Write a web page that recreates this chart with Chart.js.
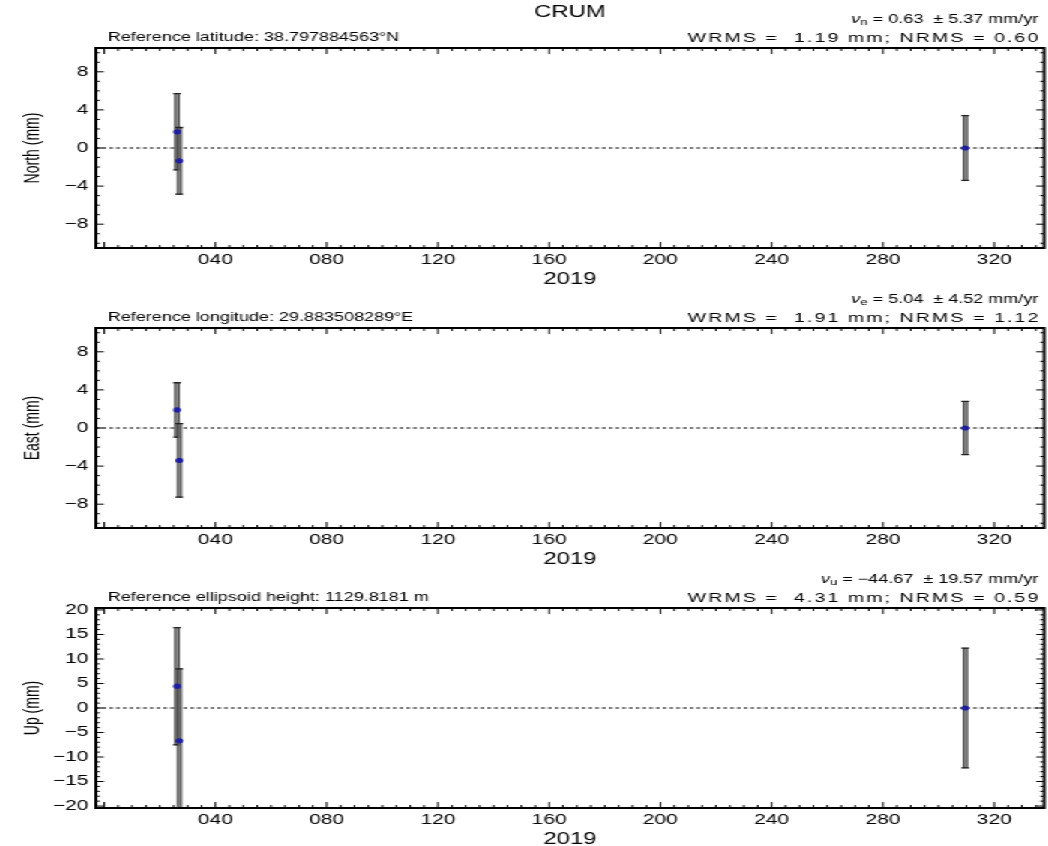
<!DOCTYPE html>
<html>
<head>
<meta charset="utf-8">
<script src="https://cdn.jsdelivr.net/npm/chart.js@4.4.1/dist/chart.umd.min.js"></script>
<style>
  html, body { margin: 0; padding: 0; background: #fff; overflow: hidden; }
  /* the reference is a horizontally stretched plot, so draw narrow and stretch */
  #wrap { position: absolute; left: 0; top: 0; width: 699px; height: 846px;
          transform: scaleX(1.4993); transform-origin: 0 0; }
  .panel { position: absolute; left: 0; width: 699px; height: 290px; }
</style>
</head>
<body>
<div id="wrap">
  <div class="panel" style="top:0"><canvas id="north"></canvas></div>
  <div class="panel" style="top:280px"><canvas id="east"></canvas></div>
  <div class="panel" style="top:560px"><canvas id="up"></canvas></div>
</div>
<script>
// epochs, day of year 2019
const days = [26.2, 27.0, 309.6];

const northVals = [1.7, -1.35, 0.0];
const northErr = [4.0, 3.5, 3.4];
const eastVals = [1.9, -3.4, 0.0];
const eastErr = [2.85, 3.85, 2.8];
const upVals = [4.45, -6.7, 0.0];
const upErr = [11.95, 14.7, 12.2];

const xTicks = [40, 80, 120, 160, 200, 240, 280, 320];
const neTicks = [-8, -4, 0, 4, 8];
const upTicks = [-20, -15, -10, -5, 0, 5, 10, 15, 20];

const FONT = '"Liberation Sans", Arial, sans-serif';
const X_MIN = -3, X_MAX = 338;

function makePanel(id, vals, errs, yTicks, yMin, yMax, yMajor, yTitle, head) {
    const sans = size => ({ family: FONT, size: size });

    const zeroLine = {
        id: 'zeroLine',
        beforeDatasetsDraw(chart) {
            const ctx = chart.ctx, a = chart.chartArea;
            const y0 = chart.scales.y.getPixelForValue(0);
            ctx.save();
            ctx.strokeStyle = '#000';
            ctx.lineWidth = 1;
            ctx.setLineDash([2.5, 2]);
            ctx.beginPath();
            ctx.moveTo(a.left, y0);
            ctx.lineTo(a.right, y0);
            ctx.stroke();
            ctx.restore();
        }
    };

    const errorBars = {
        id: 'errorBars',
        beforeDatasetsDraw(chart) {
            const ctx = chart.ctx, a = chart.chartArea;
            const sx = chart.scales.x, sy = chart.scales.y;
            ctx.save();
            ctx.beginPath();
            ctx.rect(a.left, a.top, a.right - a.left, a.bottom - a.top);
            ctx.clip();
            days.forEach((d, i) => {
                const x = sx.getPixelForValue(d);
                const yt = sy.getPixelForValue(vals[i] + errs[i]);
                const yb = sy.getPixelForValue(vals[i] - errs[i]);
                ctx.fillStyle = 'rgba(110,110,110,0.85)';
                ctx.fillRect(x - 1.4, yt, 2.8, yb - yt);
                ctx.strokeStyle = '#222';
                ctx.lineWidth = 0.7;
                ctx.strokeRect(x - 1.4, yt, 2.8, yb - yt);
                ctx.lineWidth = 1.3;
                ctx.beginPath();
                ctx.moveTo(x - 2.6, yt); ctx.lineTo(x + 2.6, yt);
                ctx.moveTo(x - 2.6, yb); ctx.lineTo(x + 2.6, yb);
                ctx.stroke();
            });
            ctx.restore();
        }
    };

    const frame = {
        id: 'frame',
        afterDraw(chart) {
            const ctx = chart.ctx, a = chart.chartArea;
            const sx = chart.scales.x, sy = chart.scales.y;
            ctx.save();
            ctx.strokeStyle = '#000';
            ctx.lineWidth = 1;
            ctx.beginPath();
            // x ticks, inward on top and bottom
            for (let v = Math.ceil(X_MIN / 5) * 5; v <= X_MAX; v += 5) {
                const x = sx.getPixelForValue(v);
                const len = v % 40 === 0 ? 6 : 3;
                ctx.moveTo(x, a.bottom); ctx.lineTo(x, a.bottom - len);
                ctx.moveTo(x, a.top); ctx.lineTo(x, a.top + len);
            }
            // y ticks, inward on left and right
            for (let v = Math.ceil(yMin); v <= yMax; v += 1) {
                const y = sy.getPixelForValue(v);
                const len = v % yMajor === 0 ? 5.3 : 2.7;
                ctx.moveTo(a.left, y); ctx.lineTo(a.left + len, y);
                ctx.moveTo(a.right, y); ctx.lineTo(a.right - len, y);
            }
            ctx.stroke();
            ctx.lineWidth = 2;
            ctx.strokeRect(a.left, a.top, a.right - a.left, a.bottom - a.top);
            ctx.restore();
        }
    };

    const header = {
        id: 'header',
        afterDraw(chart) {
            const ctx = chart.ctx, a = chart.chartArea;
            ctx.save();
            ctx.fillStyle = '#000';
            ctx.textBaseline = 'middle';
            if (head.title) {
                ctx.font = '16px ' + FONT;
                ctx.textAlign = 'center';
                ctx.fillText(head.title, (a.left + a.right) / 2, 13);
            }
            // velocity line: italic nu, subscript, value
            const y1 = a.top - 28, right = a.right - 4;
            ctx.textAlign = 'left';
            ctx.font = 'italic 12px ' + FONT;
            const wNu = ctx.measureText('\u03bd').width;
            ctx.font = '9px ' + FONT;
            const wSub = ctx.measureText(head.comp).width;
            ctx.font = '12px ' + FONT;
            const wTxt = ctx.measureText(head.vel).width;
            let x = right - wNu - wSub - wTxt;
            ctx.font = 'italic 12px ' + FONT;
            ctx.fillText('\u03bd', x, y1); x += wNu;
            ctx.font = '9px ' + FONT;
            ctx.fillText(head.comp, x, y1 + 3); x += wSub;
            ctx.font = '12px ' + FONT;
            ctx.fillText(head.vel, x, y1);
            // reference / rms line
            const y2 = a.top - 10;
            ctx.fillText(head.ref, a.left + 8, y2);
            ctx.textAlign = 'right';
            ctx.font = '13px ' + FONT;
            ctx.letterSpacing = '1.4px';
            ctx.fillText(head.rms, right + 1.4, y2);
            ctx.restore();
        }
    };

    return new Chart(document.getElementById(id), {
        type: 'scatter',
        data: {
            datasets: [{
                data: days.map((d, i) => ({ x: d, y: vals[i] })),
                pointRadius: 2.6,
                pointHoverRadius: 2.6,
                backgroundColor: '#1e1ea0',
                borderColor: '#1e1ea0',
                borderWidth: 0
            }]
        },
        options: {
            responsive: true,
            maintainAspectRatio: false,
            animation: false,
            events: [],
            layout: { padding: { top: 48, right: 1.5, left: 0, bottom: 0 } },
            plugins: { legend: { display: false }, tooltip: { enabled: false } },
            scales: {
                x: {
                    type: 'linear', min: X_MIN, max: X_MAX,
                    grid: { display: false, drawTicks: false },
                    border: { display: false },
                    afterBuildTicks: s => { s.ticks = xTicks.map(v => ({ value: v })); },
                    afterFit: s => { s.height = 42; },
                    ticks: {
                        padding: 4, color: '#000', font: sans(14),
                        maxRotation: 0, autoSkip: false,
                        callback: v => String(v).padStart(3, '0')
                    },
                    title: {
                        display: true, text: '2019', color: '#000', font: sans(16),
                        padding: { top: 0, bottom: 1 }
                    }
                },
                y: {
                    type: 'linear', min: yMin, max: yMax,
                    grid: { display: false, drawTicks: false },
                    border: { display: false },
                    afterBuildTicks: s => { s.ticks = yTicks.map(v => ({ value: v })); },
                    afterFit: s => { s.width = 64; },
                    ticks: {
                        padding: 5, color: '#000', font: sans(14), autoSkip: false,
                        callback: v => v < 0 ? '\u2212' + (-v) : String(v)
                    },
                    title: {
                        display: true, text: yTitle, color: '#000', font: sans(14),
                        padding: { top: 14, bottom: 0 }
                    }
                }
            }
        },
        plugins: [zeroLine, errorBars, frame, header]
    });
}

makePanel('north', northVals, northErr, neTicks, -10.5, 10.5, 4, 'North (mm)', {
    title: 'CRUM', comp: 'n', vel: ' = 0.63  \u00b1 5.37 mm/yr',
    ref: 'Reference latitude: 38.797884563\u00b0N',
    rms: 'WRMS =  1.19 mm; NRMS = 0.60'
});
makePanel('east', eastVals, eastErr, neTicks, -10.5, 10.5, 4, 'East (mm)', {
    comp: 'e', vel: ' = 5.04  \u00b1 4.52 mm/yr',
    ref: 'Reference longitude: 29.883508289\u00b0E',
    rms: 'WRMS =  1.91 mm; NRMS = 1.12'
});
makePanel('up', upVals, upErr, upTicks, -20.4, 20.4, 5, 'Up (mm)', {
    comp: 'u', vel: ' = \u221244.67  \u00b1 19.57 mm/yr',
    ref: 'Reference ellipsoid height: 1129.8181 m',
    rms: 'WRMS =  4.31 mm; NRMS = 0.59'
});
</script>
</body>
</html>
